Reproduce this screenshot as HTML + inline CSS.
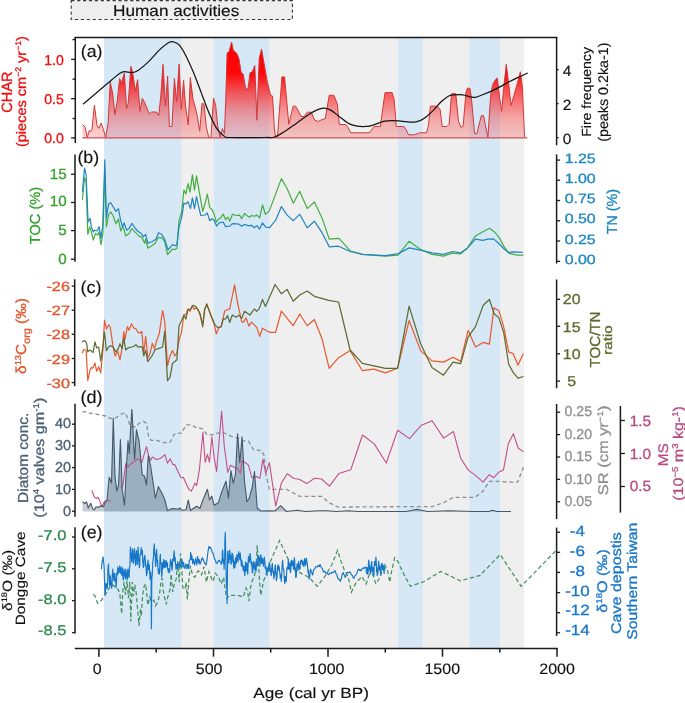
<!DOCTYPE html><html><head><meta charset="utf-8"><style>html,body{margin:0;padding:0;background:#fff;width:685px;height:703px;overflow:hidden}svg{display:block;font-family:"Liberation Sans", sans-serif;text-rendering:geometricPrecision;will-change:transform}</style></head><body>
<svg width="685" height="703" viewBox="0 0 685 703">
<defs><linearGradient id="gchar" gradientUnits="userSpaceOnUse" x1="0" y1="137.9" x2="0" y2="43.6"><stop offset="0" stop-color="#ff0000" stop-opacity="0.18"/><stop offset="0.217" stop-color="#ff0000" stop-opacity="0.31"/><stop offset="0.367" stop-color="#ff0000" stop-opacity="0.48"/><stop offset="0.525" stop-color="#ff0000" stop-opacity="0.70"/><stop offset="0.683" stop-color="#ff0000" stop-opacity="0.97"/><stop offset="1" stop-color="#ff0000" stop-opacity="1"/></linearGradient></defs>
<rect x="71.2" y="0.6" width="221.2" height="18.9" fill="#eeeeee" stroke="#3a3a3a" stroke-width="1.1" stroke-dasharray="3.3,2.6"/>
<rect x="181" y="37.7" width="343.1" height="610.3" fill="#efefef"/>
<rect x="104.0" y="37.7" width="77.4" height="610.3" fill="#d6e7f6"/>
<rect x="213.7" y="37.7" width="55.6" height="610.3" fill="#d6e7f6"/>
<rect x="398.0" y="37.7" width="24.7" height="610.3" fill="#d6e7f6"/>
<rect x="469.5" y="37.7" width="30.6" height="610.3" fill="#d6e7f6"/>
<polygon points="82.5,137.9 82.5,124.5 85.2,127.3 87.2,137.5 89.4,130.1 90.6,131.7 91.9,129.7 94.4,105.1 96.9,125.0 98.8,128.3 101.1,123.0 103.2,128.9 105.7,137.5 108.2,122.6 110.2,82.0 112.6,92.9 114.9,114.5 117.3,100.7 119.6,78.5 121.6,82.7 124.3,72.9 126.6,108.2 128.2,103.9 130.9,66.3 132.6,72.6 135.3,91.3 137.6,79.6 140.0,111.4 142.3,98.4 144.6,102.3 149.3,114.0 151.7,112.0 156.4,112.0 158.7,115.6 160.8,96.0 163.0,64.4 165.5,106.2 167.6,76.0 169.4,126.5 172.0,126.5 174.4,78.5 176.6,101.5 179.1,64.0 181.3,109.3 183.6,80.4 185.6,107.0 188.3,125.0 190.3,77.6 193.0,99.2 195.0,106.2 197.4,116.4 199.7,131.2 202.1,103.1 204.1,104.6 206.3,127.3 208.8,137.5 211.0,137.5 213.5,98.1 215.7,105.4 217.7,125.8 220.1,137.5 222.4,128.6 224.5,133.6 226.0,91.3 227.1,53.0 229.2,51.4 231.5,42.0 233.4,50.6 236.5,53.0 238.9,58.5 241.2,72.6 243.2,74.1 245.9,90.1 248.2,87.4 250.1,72.6 252.2,72.1 254.8,65.5 256.9,120.3 259.2,58.5 261.5,49.1 263.9,62.4 267.0,80.4 270.5,95.3 272.5,96.0 274.4,128.9 275.6,137.5 277.5,136.7 281.9,76.9 284.6,76.9 288.8,124.2 293.2,106.2 295.5,106.2 297.9,110.1 301.0,116.4 304.1,116.4 307.3,112.2 311.2,112.2 314.8,120.3 318.2,121.4 322.1,119.5 325.3,118.7 329.2,95.3 333.9,95.3 337.3,103.9 339.3,124.5 345.6,124.5 347.9,127.3 350.8,132.8 369.4,132.8 374.1,126.5 380.3,126.5 385.0,92.6 392.1,92.6 394.1,99.2 396.3,126.5 403.8,126.5 406.2,129.7 408.5,134.8 414.8,134.8 419.5,132.8 426.5,132.8 428.4,125.8 430.4,106.2 437.0,106.2 440.1,109.3 442.2,126.5 446.9,126.5 449.2,124.2 451.5,93.7 455.8,93.7 458.4,121.1 460.9,127.3 463.1,126.5 466.0,92.1 467.5,88.2 469.9,88.2 471.4,97.6 474.6,133.6 476.9,133.6 481.3,115.6 483.5,115.6 487.9,137.5 490.7,94.5 492.6,85.1 494.9,80.4 497.3,78.0 499.6,97.6 501.6,111.4 503.8,86.6 506.3,64.4 509.0,86.6 511.0,105.4 514.2,94.5 517.3,83.5 520.4,71.8 522.3,86.6 524.6,137.5 524.6,137.9" fill="url(#gchar)" stroke="none"/>
<polyline points="82.5,124.5 85.2,127.3 87.2,137.5 89.4,130.1 90.6,131.7 91.9,129.7 94.4,105.1 96.9,125.0 98.8,128.3 101.1,123.0 103.2,128.9 105.7,137.5 108.2,122.6 110.2,82.0 112.6,92.9 114.9,114.5 117.3,100.7 119.6,78.5 121.6,82.7 124.3,72.9 126.6,108.2 128.2,103.9 130.9,66.3 132.6,72.6 135.3,91.3 137.6,79.6 140.0,111.4 142.3,98.4 144.6,102.3 149.3,114.0 151.7,112.0 156.4,112.0 158.7,115.6 160.8,96.0 163.0,64.4 165.5,106.2 167.6,76.0 169.4,126.5 172.0,126.5 174.4,78.5 176.6,101.5 179.1,64.0 181.3,109.3 183.6,80.4 185.6,107.0 188.3,125.0 190.3,77.6 193.0,99.2 195.0,106.2 197.4,116.4 199.7,131.2 202.1,103.1 204.1,104.6 206.3,127.3 208.8,137.5 211.0,137.5 213.5,98.1 215.7,105.4 217.7,125.8 220.1,137.5 222.4,128.6 224.5,133.6 226.0,91.3 227.1,53.0 229.2,51.4 231.5,42.0 233.4,50.6 236.5,53.0 238.9,58.5 241.2,72.6 243.2,74.1 245.9,90.1 248.2,87.4 250.1,72.6 252.2,72.1 254.8,65.5 256.9,120.3 259.2,58.5 261.5,49.1 263.9,62.4 267.0,80.4 270.5,95.3 272.5,96.0 274.4,128.9 275.6,137.5 277.5,136.7 281.9,76.9 284.6,76.9 288.8,124.2 293.2,106.2 295.5,106.2 297.9,110.1 301.0,116.4 304.1,116.4 307.3,112.2 311.2,112.2 314.8,120.3 318.2,121.4 322.1,119.5 325.3,118.7 329.2,95.3 333.9,95.3 337.3,103.9 339.3,124.5 345.6,124.5 347.9,127.3 350.8,132.8 369.4,132.8 374.1,126.5 380.3,126.5 385.0,92.6 392.1,92.6 394.1,99.2 396.3,126.5 403.8,126.5 406.2,129.7 408.5,134.8 414.8,134.8 419.5,132.8 426.5,132.8 428.4,125.8 430.4,106.2 437.0,106.2 440.1,109.3 442.2,126.5 446.9,126.5 449.2,124.2 451.5,93.7 455.8,93.7 458.4,121.1 460.9,127.3 463.1,126.5 466.0,92.1 467.5,88.2 469.9,88.2 471.4,97.6 474.6,133.6 476.9,133.6 481.3,115.6 483.5,115.6 487.9,137.5 490.7,94.5 492.6,85.1 494.9,80.4 497.3,78.0 499.6,97.6 501.6,111.4 503.8,86.6 506.3,64.4 509.0,86.6 511.0,105.4 514.2,94.5 517.3,83.5 520.4,71.8 522.3,86.6 524.6,137.5" fill="none" stroke="#cf3a3a" stroke-width="1" stroke-linejoin="round"/>
<line x1="82.5" y1="137.9" x2="527.3" y2="137.9" stroke="#d25050" stroke-width="1.2"/>
<path d="M83.10,104.20 C87.75,100.23 104.52,85.75 111.00,80.40 C117.48,75.05 118.62,73.40 122.00,72.10 C125.38,70.80 128.70,72.83 131.30,72.60 C133.90,72.37 134.72,72.53 137.60,70.70 C140.48,68.87 144.95,65.07 148.60,61.60 C152.25,58.13 156.12,53.08 159.50,49.90 C162.88,46.72 166.50,43.82 168.90,42.50 C171.30,41.18 172.15,41.55 173.90,42.00 C175.65,42.45 177.45,42.98 179.40,45.20 C181.35,47.42 183.25,50.73 185.60,55.30 C187.95,59.87 190.88,66.33 193.50,72.60 C196.12,78.87 198.70,86.13 201.30,92.90 C203.90,99.67 206.48,107.20 209.10,113.20 C211.72,119.20 214.52,125.12 217.00,128.90 C219.48,132.68 221.92,134.47 224.00,135.90 C226.08,137.33 222.67,137.23 229.50,137.50 C236.33,137.77 257.52,137.58 265.00,137.50 C272.48,137.42 271.27,137.92 274.40,137.00 C277.53,136.08 280.15,134.27 283.80,132.00 C287.45,129.73 292.13,126.32 296.30,123.40 C300.47,120.48 305.42,116.72 308.80,114.50 C312.18,112.28 314.12,111.15 316.60,110.10 C319.08,109.05 321.35,108.20 323.70,108.20 C326.05,108.20 327.97,108.60 330.70,110.10 C333.43,111.60 336.97,114.90 340.10,117.20 C343.23,119.50 346.63,122.40 349.50,123.90 C352.37,125.40 354.72,125.77 357.30,126.20 C359.88,126.63 362.98,126.52 365.00,126.50 C367.02,126.48 367.63,126.48 369.40,126.10 C371.17,125.72 373.25,124.98 375.60,124.20 C377.95,123.42 380.88,122.00 383.50,121.40 C386.12,120.80 388.43,120.65 391.30,120.60 C394.17,120.55 397.05,120.83 400.70,121.10 C404.35,121.37 410.07,122.25 413.20,122.20 C416.33,122.15 417.42,121.63 419.50,120.80 C421.58,119.97 423.35,118.98 425.70,117.20 C428.05,115.42 430.98,112.72 433.60,110.10 C436.22,107.48 438.80,103.90 441.40,101.50 C444.00,99.10 446.85,96.82 449.20,95.70 C451.55,94.58 453.23,94.93 455.50,94.80 C457.77,94.67 460.28,94.57 462.80,94.90 C465.32,95.23 468.52,96.40 470.60,96.80 C472.68,97.20 473.20,97.68 475.30,97.30 C477.40,96.92 480.32,95.62 483.20,94.50 C486.08,93.38 489.73,91.92 492.60,90.60 C495.47,89.28 497.80,87.98 500.40,86.60 C503.00,85.22 505.33,83.80 508.20,82.30 C511.07,80.80 514.33,79.15 517.60,77.60 C520.87,76.05 526.10,73.77 527.80,73.00" fill="none" stroke="#151515" stroke-width="1.25"/>
<polyline points="82.4,199.9 84.5,177.8 86.1,181.9 87.8,234.3 89.7,226.9 91.4,231.8 93.3,240.0 95.5,233.5 97.6,235.1 99.2,231.8 100.9,244.6 102.8,235.1 104.8,171.3 106.4,226.9 108.6,214.6 110.7,211.9 113.0,215.5 115.9,223.6 118.4,219.1 120.8,231.0 122.8,226.1 124.1,229.9 125.7,235.9 129.0,233.5 132.0,228.6 135.6,232.7 138.8,235.9 142.1,237.6 144.6,243.3 145.7,239.2 147.8,248.2 151.9,245.7 155.2,243.3 158.1,237.6 161.7,237.6 164.7,241.7 167.5,254.7 172.5,249.0 174.9,249.5 176.9,248.2 179.0,220.4 181.5,213.0 183.9,190.1 185.9,193.9 188.0,183.6 190.0,192.2 192.4,174.9 194.5,190.1 196.5,175.9 199.1,190.9 202.7,211.4 204.7,204.8 207.3,194.2 209.8,207.6 212.2,209.7 214.2,214.6 216.3,222.0 219.1,218.7 220.7,217.9 223.2,214.2 225.6,219.6 227.8,217.1 229.7,221.2 232.5,214.3 236.3,215.5 239.6,215.1 241.7,218.7 244.5,213.5 248.9,217.1 251.8,215.5 254.3,216.3 256.7,215.1 259.7,217.9 262.5,204.8 265.4,214.3 269.1,211.4 281.4,178.6 287.1,188.5 293.3,203.2 299.7,191.2 307.2,208.6 314.4,202.0 322.0,217.9 329.3,239.2 339.0,238.4 350.1,250.7 362.5,254.4 385.4,256.1 398.0,255.1 409.1,241.3 420.6,249.5 432.0,254.4 443.5,256.1 452.5,253.1 460.7,253.9 467.3,248.2 475.5,235.9 482.0,232.3 489.4,228.2 494.3,231.8 499.2,237.6 504.1,246.6 509.0,253.4 517.2,255.2 523.4,255.2" fill="none" stroke="#42ae42" stroke-width="1.2" stroke-linejoin="round"/>
<polyline points="82.4,191.7 84.5,168.0 86.1,174.5 88.1,222.0 90.1,218.4 91.4,226.9 93.3,231.8 94.6,230.2 97.1,231.0 99.2,226.6 100.9,238.4 102.8,225.3 104.8,159.8 106.4,217.9 108.6,204.0 110.7,202.7 113.0,206.5 115.9,211.4 118.4,208.6 120.5,219.6 122.5,226.9 124.1,222.8 126.6,230.2 129.0,228.6 132.0,223.3 134.7,227.7 138.0,231.5 140.5,232.7 143.4,236.7 145.7,234.3 147.8,243.3 151.9,241.7 156.0,239.2 158.5,232.7 161.7,234.3 164.7,239.2 168.0,249.8 172.5,244.6 174.9,245.7 176.9,244.6 179.0,226.9 181.8,217.1 183.9,203.2 186.0,204.0 188.0,201.6 190.5,208.6 192.4,197.8 194.5,208.6 196.5,196.6 198.6,206.5 200.8,215.5 205.2,215.0 207.3,213.0 209.8,220.7 212.2,218.7 214.2,220.4 216.6,226.1 219.1,222.8 223.2,222.0 225.6,226.6 229.7,226.1 232.5,223.6 238.7,224.0 241.5,226.1 244.5,224.5 248.2,225.6 251.5,225.3 254.3,227.7 256.7,225.6 259.7,229.0 262.5,222.8 265.7,227.2 269.6,227.7 275.6,220.4 281.4,206.5 287.1,215.1 293.3,220.7 299.7,214.3 307.2,227.7 314.4,221.2 321.5,231.8 329.3,246.9 338.6,246.2 350.1,251.5 362.5,254.4 385.4,255.6 398.5,253.6 409.1,247.9 420.6,250.2 432.0,252.8 443.5,254.4 452.5,251.5 460.7,252.8 467.3,248.2 475.5,239.2 482.8,240.3 487.7,239.2 493.5,238.9 498.4,243.0 504.1,249.0 508.2,252.3 513.9,251.8 522.9,252.3" fill="none" stroke="#1f86c0" stroke-width="1.2" stroke-linejoin="round"/>
<polyline points="81.9,353.2 84.0,349.5 86.1,350.3 87.8,380.6 90.1,369.9 91.4,367.5 92.7,368.3 95.0,363.1 96.6,371.2 98.7,366.7 100.7,372.9 102.8,351.9 104.5,320.0 106.4,329.0 108.6,324.9 110.2,327.0 113.0,346.2 115.1,356.0 117.6,351.1 120.0,359.8 122.1,347.8 123.8,331.5 124.9,339.6 127.4,326.6 129.0,330.3 131.5,323.8 133.9,328.2 135.9,328.7 138.0,332.3 140.1,333.1 141.8,331.5 143.7,352.7 145.7,336.4 147.8,358.1 150.0,353.6 152.3,343.4 154.4,348.6 156.8,340.5 159.3,333.6 162.6,310.7 164.7,320.8 167.5,365.8 169.9,356.0 172.5,350.6 174.9,356.0 176.9,353.2 179.0,340.5 181.5,332.3 183.9,315.1 186.0,314.3 188.0,308.6 190.0,311.3 192.1,305.8 194.2,309.4 196.2,307.7 198.6,310.2 201.1,319.2 202.7,324.1 204.7,309.4 206.8,303.6 210.9,315.9 214.2,324.1 216.3,333.9 219.1,327.0 221.1,327.0 224.8,310.7 227.3,309.7 229.7,309.0 234.6,284.8 237.4,302.0 239.6,311.8 241.7,321.6 243.6,322.1 246.1,317.9 248.9,326.1 251.5,322.1 255.1,325.7 256.7,327.4 259.7,336.4 262.5,328.2 265.7,330.3 269.6,332.3 275.6,332.3 281.4,311.0 287.1,318.4 293.2,325.7 299.7,314.0 307.2,325.7 314.4,319.5 322.0,338.8 329.2,368.3 338.6,357.7 350.1,350.6 362.4,370.7 373.9,369.1 385.4,372.9 397.6,368.3 409.1,320.5 420.6,350.6 432.0,360.9 443.5,362.1 453.0,357.3 460.7,361.4 468.1,330.3 475.5,347.0 483.2,342.4 489.4,344.1 494.0,307.7 498.9,310.7 503.8,327.4 508.7,351.9 513.1,353.6 518.0,365.3 523.4,353.6" fill="none" stroke="#e8582e" stroke-width="1.2" stroke-linejoin="round"/>
<polyline points="81.9,342.1 84.5,340.5 86.5,342.9 87.8,351.9 89.7,350.0 91.4,351.1 93.0,352.7 95.0,341.8 96.6,347.8 98.7,347.0 100.7,360.9 102.8,347.0 104.5,332.3 106.4,350.6 108.6,347.0 110.7,345.7 113.0,347.0 115.6,351.6 117.9,349.5 120.0,343.7 122.1,348.6 123.8,338.0 125.7,350.0 128.2,347.8 131.5,347.0 133.9,346.2 135.9,344.6 138.0,347.0 140.5,346.7 142.4,347.0 143.7,356.0 145.7,350.3 147.8,361.7 151.9,356.0 155.2,349.5 158.5,348.6 162.6,347.0 164.7,331.5 167.5,380.6 170.0,377.3 172.5,363.4 174.6,361.7 176.9,359.8 179.0,325.7 181.5,320.8 183.9,315.1 185.9,319.2 188.0,309.7 190.5,309.4 192.9,305.3 196.2,306.9 200.3,314.3 202.7,327.0 204.7,309.4 206.8,304.5 210.9,315.1 215.0,324.9 217.5,327.4 221.1,327.0 223.2,319.2 225.6,318.9 227.6,315.6 229.7,322.5 232.2,315.1 236.3,317.2 238.7,315.1 241.7,318.4 244.5,311.3 249.9,315.1 254.3,309.0 256.7,311.3 259.2,308.6 262.5,299.5 265.4,306.4 275.1,284.5 281.4,293.8 287.1,289.4 293.2,301.2 299.7,295.0 307.2,291.0 314.4,296.3 328.8,300.4 338.6,302.0 350.1,350.0 362.4,363.4 385.4,368.3 397.6,368.3 409.1,306.1 420.6,343.7 432.0,367.5 443.5,375.2 453.0,362.2 460.7,363.7 468.1,337.2 475.5,326.6 483.2,305.3 489.4,299.5 494.0,313.5 498.9,317.9 503.8,333.1 508.7,364.2 513.1,372.4 518.0,378.1 523.4,376.5" fill="none" stroke="#5b6a2e" stroke-width="1.2" stroke-linejoin="round"/>
<polyline points="82.5,412.4 84.8,411.4 88.3,413.1 94.6,413.7 99.9,414.9 106.1,416.0 110.6,418.5 115.9,417.8 120.4,414.2 125.7,413.1 128.0,419.9 130.2,426.1 135.5,427.0 138.7,423.5 143.5,421.3 146.5,423.5 148.8,437.7 151.2,440.4 156.9,440.4 164.0,442.7 170.2,442.2 173.6,435.0 177.1,432.7 181.6,433.3 186.0,424.9 191.4,424.9 196.7,427.9 202.0,428.5 207.4,435.0 213.6,434.5 219.8,432.4 225.2,433.3 231.4,436.3 236.7,437.7 243.0,440.9 248.3,440.9 253.6,449.8 261.6,450.5 264.0,455.5 266.1,475.1 269.4,489.3 286.4,489.3 299.7,496.4 321.6,496.4 329.1,502.7 338.0,507.1 395.6,506.7 432.1,506.7 443.6,502.7 453.4,497.3 474.9,497.3 483.1,491.1 489.2,481.3 499.5,481.3 508.4,482.2 517.6,482.2 523.5,467.1" fill="none" stroke="#8e8e8e" stroke-width="1.3" stroke-dasharray="4,2.8"/>
<clipPath id="cw"><rect x="0" y="380" width="104" height="140"/><rect x="524.1" y="380" width="100" height="140"/></clipPath>
<clipPath id="cg"><rect x="181.4" y="380" width="32.3" height="140"/><rect x="269.3" y="380" width="128.7" height="140"/><rect x="422.7" y="380" width="46.8" height="140"/><rect x="500.1" y="380" width="24" height="140"/></clipPath>
<clipPath id="cb"><rect x="104" y="380" width="77.4" height="140"/><rect x="213.7" y="380" width="55.6" height="140"/><rect x="398" y="380" width="24.7" height="140"/><rect x="469.5" y="380" width="30.6" height="140"/></clipPath>
<polygon clip-path="url(#cw)" points="82.5,511.5 82.5,501.8 84.8,503.5 86.6,501.8 88.3,508.0 90.7,503.2 92.8,508.9 94.6,509.8 96.0,506.7 98.1,507.5 100.8,505.7 103.5,506.7 104.9,502.7 107.0,500.0 109.2,477.2 111.5,483.1 113.3,418.1 115.0,476.0 116.8,491.1 118.6,484.9 120.4,439.5 122.2,489.3 124.5,505.3 126.2,471.5 128.0,440.9 129.3,453.7 130.5,430.6 131.9,409.2 133.4,437.7 134.6,459.1 136.4,429.7 139.1,441.3 142.3,475.1 144.4,476.0 146.5,484.9 148.3,455.5 150.6,466.2 153.3,484.0 155.4,498.2 158.3,486.6 162.2,493.8 164.9,500.0 167.5,510.7 171.1,508.9 173.6,508.5 178.0,509.2 179.8,508.0 182.5,510.3 186.0,509.8 188.3,500.0 190.5,510.7 193.1,508.5 196.7,506.2 199.9,508.5 202.9,500.0 207.4,489.3 209.5,500.0 211.8,496.1 214.1,505.3 218.4,502.7 222.0,491.1 226.0,481.3 228.4,498.2 230.9,470.6 233.2,483.1 235.5,474.2 237.6,433.8 239.8,462.6 242.1,436.8 244.4,480.4 246.9,501.8 249.2,498.2 252.2,487.5 254.5,471.5 257.2,508.0 260.7,511.0 270.0,510.7 274.8,511.0 280.7,505.7 286.4,511.5 297.0,510.3 305.9,511.5 318.4,510.7 327.3,510.7 336.2,511.5 348.6,510.7 357.5,511.5 406.3,511.5 416.9,509.2 427.6,511.5 449.0,510.7 472.8,511.5 488.8,511.5 492.4,510.3 496.8,511.5 511.0,511.5 511.0,511.5" fill="#808e9b" fill-opacity="0.45" stroke="none"/>
<polygon clip-path="url(#cg)" points="82.5,511.5 82.5,501.8 84.8,503.5 86.6,501.8 88.3,508.0 90.7,503.2 92.8,508.9 94.6,509.8 96.0,506.7 98.1,507.5 100.8,505.7 103.5,506.7 104.9,502.7 107.0,500.0 109.2,477.2 111.5,483.1 113.3,418.1 115.0,476.0 116.8,491.1 118.6,484.9 120.4,439.5 122.2,489.3 124.5,505.3 126.2,471.5 128.0,440.9 129.3,453.7 130.5,430.6 131.9,409.2 133.4,437.7 134.6,459.1 136.4,429.7 139.1,441.3 142.3,475.1 144.4,476.0 146.5,484.9 148.3,455.5 150.6,466.2 153.3,484.0 155.4,498.2 158.3,486.6 162.2,493.8 164.9,500.0 167.5,510.7 171.1,508.9 173.6,508.5 178.0,509.2 179.8,508.0 182.5,510.3 186.0,509.8 188.3,500.0 190.5,510.7 193.1,508.5 196.7,506.2 199.9,508.5 202.9,500.0 207.4,489.3 209.5,500.0 211.8,496.1 214.1,505.3 218.4,502.7 222.0,491.1 226.0,481.3 228.4,498.2 230.9,470.6 233.2,483.1 235.5,474.2 237.6,433.8 239.8,462.6 242.1,436.8 244.4,480.4 246.9,501.8 249.2,498.2 252.2,487.5 254.5,471.5 257.2,508.0 260.7,511.0 270.0,510.7 274.8,511.0 280.7,505.7 286.4,511.5 297.0,510.3 305.9,511.5 318.4,510.7 327.3,510.7 336.2,511.5 348.6,510.7 357.5,511.5 406.3,511.5 416.9,509.2 427.6,511.5 449.0,510.7 472.8,511.5 488.8,511.5 492.4,510.3 496.8,511.5 511.0,511.5 511.0,511.5" fill="#77828f" fill-opacity="0.45" stroke="none"/>
<polygon clip-path="url(#cb)" points="82.5,511.5 82.5,501.8 84.8,503.5 86.6,501.8 88.3,508.0 90.7,503.2 92.8,508.9 94.6,509.8 96.0,506.7 98.1,507.5 100.8,505.7 103.5,506.7 104.9,502.7 107.0,500.0 109.2,477.2 111.5,483.1 113.3,418.1 115.0,476.0 116.8,491.1 118.6,484.9 120.4,439.5 122.2,489.3 124.5,505.3 126.2,471.5 128.0,440.9 129.3,453.7 130.5,430.6 131.9,409.2 133.4,437.7 134.6,459.1 136.4,429.7 139.1,441.3 142.3,475.1 144.4,476.0 146.5,484.9 148.3,455.5 150.6,466.2 153.3,484.0 155.4,498.2 158.3,486.6 162.2,493.8 164.9,500.0 167.5,510.7 171.1,508.9 173.6,508.5 178.0,509.2 179.8,508.0 182.5,510.3 186.0,509.8 188.3,500.0 190.5,510.7 193.1,508.5 196.7,506.2 199.9,508.5 202.9,500.0 207.4,489.3 209.5,500.0 211.8,496.1 214.1,505.3 218.4,502.7 222.0,491.1 226.0,481.3 228.4,498.2 230.9,470.6 233.2,483.1 235.5,474.2 237.6,433.8 239.8,462.6 242.1,436.8 244.4,480.4 246.9,501.8 249.2,498.2 252.2,487.5 254.5,471.5 257.2,508.0 260.7,511.0 270.0,510.7 274.8,511.0 280.7,505.7 286.4,511.5 297.0,510.3 305.9,511.5 318.4,510.7 327.3,510.7 336.2,511.5 348.6,510.7 357.5,511.5 406.3,511.5 416.9,509.2 427.6,511.5 449.0,510.7 472.8,511.5 488.8,511.5 492.4,510.3 496.8,511.5 511.0,511.5 511.0,511.5" fill="#536c7e" fill-opacity="0.45" stroke="none"/>
<polyline points="91.9,490.2 94.2,496.8 96.4,498.6 98.1,497.3 99.9,501.4 102.0,506.7 104.4,501.4 108.8,500.0 110.6,502.1" fill="none" stroke="#c4508a" stroke-width="1.1" stroke-linejoin="round"/>
<polyline points="120.9,488.4 123.0,484.9 125.7,463.5 128.0,467.1 130.2,464.4 133.7,461.7 138.2,458.7 141.7,462.6 144.4,453.7 146.5,446.6 148.3,454.6 150.6,460.5 152.4,456.9 156.0,459.4 159.5,458.7 161.8,457.3 164.9,454.6 167.5,463.1 170.2,458.7 172.7,464.4 175.0,464.9 178.0,471.5 181.0,477.7 183.3,477.2 188.7,489.3 191.4,491.1 194.9,483.1 196.7,485.7 199.4,469.7 202.9,432.4 205.2,462.3 207.4,454.3 209.5,462.3 211.8,436.8 214.1,457.3 216.6,471.5 221.6,411.4 224.3,446.6 227.8,472.4 230.5,465.3 234.9,467.6 237.3,468.3 240.3,473.3 242.1,460.5 244.7,462.3 248.3,464.9 251.9,477.7 256.3,476.5 259.9,478.3 262.9,459.1 265.7,473.3 269.4,462.6 275.7,506.2 281.4,483.1 287.2,473.8 293.5,478.3 299.7,479.5 306.8,483.6 314.5,478.3 321.6,479.0 329.4,486.1 338.8,473.6 350.8,469.7 362.5,435.0 374.2,443.9 386.3,463.0 397.7,430.2 409.5,438.6 420.9,425.6 432.1,420.8 443.6,438.1 453.4,431.5 460.7,458.2 468.3,470.1 475.5,475.4 483.1,482.2 489.2,474.7 493.8,477.7 499.1,471.9 503.4,470.1 508.4,443.4 513.4,433.8 518.2,448.0 523.5,451.9" fill="none" stroke="#c4508a" stroke-width="1.1" stroke-linejoin="round"/>
<polyline points="82.5,501.8 84.8,503.5 86.6,501.8 88.3,508.0 90.7,503.2 92.8,508.9 94.6,509.8 96.0,506.7 98.1,507.5 100.8,505.7 103.5,506.7 104.9,502.7 107.0,500.0 109.2,477.2 111.5,483.1 113.3,418.1 115.0,476.0 116.8,491.1 118.6,484.9 120.4,439.5 122.2,489.3 124.5,505.3 126.2,471.5 128.0,440.9 129.3,453.7 130.5,430.6 131.9,409.2 133.4,437.7 134.6,459.1 136.4,429.7 139.1,441.3 142.3,475.1 144.4,476.0 146.5,484.9 148.3,455.5 150.6,466.2 153.3,484.0 155.4,498.2 158.3,486.6 162.2,493.8 164.9,500.0 167.5,510.7 171.1,508.9 173.6,508.5 178.0,509.2 179.8,508.0 182.5,510.3 186.0,509.8 188.3,500.0 190.5,510.7 193.1,508.5 196.7,506.2 199.9,508.5 202.9,500.0 207.4,489.3 209.5,500.0 211.8,496.1 214.1,505.3 218.4,502.7 222.0,491.1 226.0,481.3 228.4,498.2 230.9,470.6 233.2,483.1 235.5,474.2 237.6,433.8 239.8,462.6 242.1,436.8 244.4,480.4 246.9,501.8 249.2,498.2 252.2,487.5 254.5,471.5 257.2,508.0 260.7,511.0 270.0,510.7 274.8,511.0 280.7,505.7 286.4,511.5 297.0,510.3 305.9,511.5 318.4,510.7 327.3,510.7 336.2,511.5 348.6,510.7 357.5,511.5 406.3,511.5 416.9,509.2 427.6,511.5 449.0,510.7 472.8,511.5 488.8,511.5 492.4,510.3 496.8,511.5 511.0,511.5" fill="none" stroke="#44586a" stroke-width="1.1" stroke-linejoin="round"/>
<polyline points="93.4,594.2 95.0,596.1 97.6,603.2 101.4,600.3 104.9,595.4 108.5,589.7 110.6,584.7 113.5,585.4 116.3,588.3 118.4,589.7 119.9,594.7 120.9,606.0 121.7,613.8 122.7,591.8 124.1,581.9 125.5,594.7 127.0,580.5 128.4,598.2 129.8,581.9 130.8,621.6 132.2,581.9 133.4,596.1 134.8,584.7 136.2,593.2 137.6,608.9 139.0,625.9 140.5,608.9 141.3,616.5 142.5,597.0 144.1,586.3 145.7,583.9 146.9,595.3 147.8,605.1 149.8,597.0 151.4,601.8 153.9,600.2 155.5,605.9 158.0,601.8 159.6,593.7 160.9,582.2 162.1,578.1 163.2,590.4 164.5,597.0 166.2,604.3 167.8,597.0 170.2,588.8 171.1,574.0 172.7,592.0 174.3,583.9 176.3,578.9 177.6,561.0 179.2,582.2 180.5,553.6 181.7,567.5 182.8,588.0 185.0,589.6 186.1,582.2 187.4,599.4 189.0,578.9 190.4,565.9 192.3,574.0 194.8,577.3 197.5,571.6 198.3,570.8 201.5,574.9 204.0,566.7 206.4,582.2 208.9,571.6 211.4,578.2 213.0,581.4 215.4,573.2 218.7,577.3 221.2,583.9 223.6,577.3 225.3,590.4 226.9,598.6 229.3,595.3 234.3,595.3 239.2,595.7 243.2,597.0 246.0,588.0 247.7,592.1 249.0,601.1 250.6,587.2 252.2,580.6 254.2,577.3 255.8,569.2 257.2,545.4 258.5,565.9 259.6,581.4 260.8,595.3 262.4,587.2 263.7,580.6 265.0,577.3 270.6,561.0 279.6,540.5 288.6,560.2 294.4,569.2 302.5,574.1 309.1,577.4 317.3,586.3 325.4,575.7 332.0,564.3 337.5,550.4 340.7,560.2 344.0,569.2 348.1,576.5 351.4,592.1 353.8,587.2 356.3,582.3 362.0,576.5 366.1,583.9 369.4,574.1 372.6,574.1 375.9,583.9 380.0,577.4 384.1,563.4 387.4,570.0 389.8,582.3 391.4,572.4 394.7,557.7 398.0,561.8 403.7,574.1 410.3,586.3 424.2,581.5 440.7,571.4 460.4,580.8 480.1,575.4 500.2,554.6 521.2,586.3 556.3,550.2" fill="none" stroke="#45905f" stroke-width="1.25" stroke-dasharray="4.2,2.6"/>
<polyline points="101.4,569.1 101.6,567.2 101.9,563.3 102.1,561.3 102.5,560.7 102.8,557.9 103.2,557.0 103.5,561.8 103.9,564.4 104.2,569.1 104.4,578.2 104.7,585.4 104.9,594.7 105.3,593.2 105.7,583.9 106.1,583.3 106.4,587.6 106.8,584.6 107.1,589.0 107.6,583.9 108.0,568.3 108.5,564.1 108.8,573.5 109.2,575.1 109.5,584.7 109.9,586.0 110.2,575.6 110.6,577.6 110.9,584.7 111.3,581.6 111.6,588.3 112.0,586.3 112.4,573.1 112.8,569.1 113.1,577.1 113.5,573.8 113.8,580.5 114.2,580.7 114.5,573.3 114.9,573.4 115.3,581.1 115.6,578.8 116.0,587.6 116.3,585.3 116.7,574.0 117.0,572.6 117.3,575.1 117.7,567.2 118.0,569.1 118.4,573.3 118.7,568.1 119.1,571.2 119.4,572.2 119.7,565.7 120.0,567.0 120.4,572.9 120.9,568.1 121.3,573.4 121.6,574.9 122.0,567.0 122.3,569.1 122.6,575.7 122.8,572.8 123.1,579.0 123.4,580.0 123.8,569.0 124.1,569.8 124.4,575.2 124.8,571.5 125.1,577.6 125.4,578.9 125.7,569.1 126.0,571.2 126.3,577.5 126.7,573.0 127.0,578.3 127.3,579.7 127.7,569.7 128.0,569.1 128.3,575.1 128.5,570.8 128.8,577.6 129.1,576.7 129.5,567.2 129.8,567.0 130.0,564.7 130.0,562.7 130.3,550.0 130.5,547.1 130.7,550.7 130.9,556.0 131.2,553.5 131.5,560.0 131.6,562.0 131.9,562.0 132.3,550.5 132.3,549.1 132.6,549.2 132.9,557.7 133.0,559.0 133.1,555.1 133.4,563.4 133.7,560.6 133.8,562.0 134.1,550.2 134.5,550.8 134.5,548.5 134.8,558.3 135.1,553.8 135.2,555.5 135.5,565.5 135.8,563.9 135.8,564.8 136.2,551.8 136.5,550.6 136.6,550.7 136.8,557.3 137.0,555.3 137.3,563.4 137.4,564.5 137.6,562.4 138.0,549.4 138.0,547.0 138.3,549.2 138.6,559.5 138.7,560.7 139.0,558.6 139.3,567.7 139.3,565.6 139.7,566.1 140.1,554.5 140.1,556.0 140.5,553.5 140.9,554.5 140.9,552.1 141.2,547.5 141.5,552.0 141.6,549.5 141.9,554.4 142.3,551.5 142.4,550.2 142.6,556.3 142.8,562.4 143.1,559.8 143.2,565.9 143.3,567.5 143.8,565.9 144.0,560.9 144.4,556.5 144.7,557.2 144.9,555.2 145.4,561.8 145.4,565.2 146.0,567.4 146.0,564.7 146.5,575.7 146.7,572.7 147.1,573.8 147.3,570.9 147.6,563.7 148.0,560.1 148.2,562.6 148.6,569.8 148.7,569.9 149.2,564.6 149.3,566.0 149.8,574.0 149.9,578.3 150.2,579.3 150.6,572.1 150.7,573.6 151.1,579.0 151.2,598.2 151.3,609.4 151.4,628.8 151.5,624.4 151.5,614.9 151.7,591.8 151.8,579.0 152.2,575.3 152.2,576.3 152.7,563.6 152.9,562.2 153.1,559.3 153.5,556.5 153.7,551.0 154.0,546.5 154.4,543.8 154.4,546.5 154.8,553.6 155.1,555.6 155.2,553.9 155.5,565.9 155.8,566.4 155.9,564.2 156.3,553.6 156.7,549.3 156.7,551.2 157.1,559.2 157.5,563.1 157.6,560.3 158.0,569.1 158.3,570.4 158.4,573.5 158.9,569.2 159.1,574.1 159.3,574.0 159.7,571.4 159.8,564.1 160.0,557.6 160.4,554.4 160.4,557.0 160.8,564.0 161.1,562.7 161.2,564.2 161.6,574.0 161.7,576.9 162.0,574.1 162.5,565.4 162.5,562.5 162.9,564.2 163.2,568.3 163.3,567.5 163.8,559.6 164.0,559.9 164.2,562.6 164.6,567.4 164.7,567.1 164.9,561.2 165.3,565.9 165.6,564.0 165.7,567.3 166.1,560.4 166.4,562.9 166.5,561.8 166.9,566.2 167.0,562.9 167.4,562.9 167.6,569.1 167.8,568.3 168.3,571.8 168.5,568.8 168.9,568.9 169.2,572.9 169.4,572.4 169.8,570.5 170.0,565.0 170.3,561.3 170.7,559.3 170.7,561.0 171.1,565.2 171.3,561.4 171.5,563.7 171.9,569.1 172.1,570.3 172.3,568.4 172.6,561.4 172.9,558.6 173.0,561.0 173.4,560.7 173.6,560.1 173.9,553.3 174.2,550.8 174.3,553.6 174.7,559.5 174.9,561.1 175.2,557.5 175.6,565.1 175.7,564.5 176.0,569.1 176.4,564.4 176.8,567.5 177.3,569.2 177.9,563.2 178.4,565.1 179.0,567.5 179.5,562.3 180.1,564.2 180.9,567.4 181.7,559.1 182.5,562.6 183.0,566.9 183.6,562.4 184.1,566.7 184.9,568.6 185.8,564.0 186.6,565.9 187.1,569.0 187.7,564.2 188.2,567.2 188.8,568.5 189.3,560.1 189.9,560.1 190.3,560.2 190.6,552.4 191.0,554.4 191.4,559.4 191.9,555.9 192.3,560.1 192.8,563.8 193.4,559.2 193.9,561.8 194.7,565.1 195.6,558.4 196.4,562.6 196.9,565.0 197.5,556.5 198.0,558.5 198.6,563.0 199.3,559.6 199.9,564.3 200.7,562.7 201.6,559.0 202.4,557.7 202.9,559.8 203.5,559.5 204.0,561.8 204.7,563.6 205.4,563.4 206.1,565.1 207.0,559.7 208.0,551.6 208.9,546.3 209.7,548.2 210.6,547.3 211.4,549.2 212.2,552.4 213.0,552.9 213.8,556.1 214.6,559.1 215.5,560.2 216.3,563.4 217.4,563.0 218.4,560.8 219.5,560.2 220.2,562.1 220.8,562.3 221.5,564.3 221.9,560.6 222.0,561.4 222.4,551.3 222.6,549.9 222.8,551.2 223.2,562.1 223.4,563.3 223.7,559.6 224.0,564.9 224.1,569.2 224.5,561.8 224.7,553.6 224.9,539.7 225.3,532.4 225.4,539.0 225.6,550.1 225.8,554.6 226.1,570.8 226.3,579.0 226.4,584.8 226.8,589.5 227.0,597.0 227.1,603.5 227.3,589.1 227.5,565.6 227.7,555.3 227.7,551.2 228.0,559.1 228.2,554.0 228.5,562.6 228.5,560.6 228.9,563.1 229.2,558.0 229.3,550.8 229.7,550.4 229.8,550.2 230.1,559.2 230.4,559.0 230.6,555.2 231.0,564.3 231.1,562.8 231.4,563.4 231.8,558.0 231.9,553.0 232.3,553.6 232.4,553.6 232.7,561.4 233.0,555.1 233.1,557.9 233.4,562.6 233.8,568.3 233.8,565.3 234.2,561.6 234.5,567.1 234.6,566.7 235.0,567.5 235.2,562.5 235.5,557.9 235.9,560.2 236.0,563.5 236.4,563.0 236.8,555.2 237.0,554.6 237.5,558.5 237.6,560.2 238.1,561.8 238.4,554.8 238.6,551.7 239.1,555.7 239.2,553.6 239.7,559.3 239.7,557.6 240.3,553.1 240.4,555.8 240.8,560.2 241.0,559.1 241.3,566.1 241.8,563.8 241.9,560.5 242.4,565.1 242.6,564.2 243.1,569.8 243.4,570.7 243.7,566.0 244.0,566.2 244.4,570.8 244.8,575.5 244.9,574.2 245.5,563.6 245.5,562.1 246.0,566.7 246.3,571.1 246.4,570.7 246.9,564.3 246.9,562.7 247.3,570.0 247.8,574.1 247.9,571.4 248.4,556.4 248.4,558.7 249.0,559.3 249.2,561.9 249.5,561.9 249.9,553.6 250.1,553.8 250.6,556.9 250.8,560.8 251.1,564.1 251.5,561.9 251.7,563.1 252.2,570.0 252.3,572.7 252.8,572.7 253.1,563.0 253.3,561.5 253.9,563.4 253.9,566.6 254.4,569.1 254.6,564.1 255.0,562.4 255.4,570.9 255.5,569.2 256.1,571.2 256.2,566.6 256.6,561.3 257.0,565.0 257.2,564.3 257.6,565.9 257.8,560.9 258.1,555.3 258.5,555.3 258.6,557.8 258.9,560.9 259.2,556.9 259.4,557.4 259.6,562.6 260.1,566.2 260.1,564.3 260.7,555.9 260.9,554.6 261.2,558.5 261.6,563.5 261.8,563.0 262.0,562.9 262.3,558.4 262.7,558.8 262.9,562.6 263.5,566.1 263.6,564.9 264.2,558.8 264.3,557.0 264.9,562.6 265.0,566.6 265.4,568.9 265.7,566.5 266.0,566.8 266.3,571.7 266.5,573.3 267.1,575.6 267.1,573.6 267.6,567.8 267.7,570.0 268.2,570.8 268.5,569.0 268.7,571.5 269.2,565.1 269.3,562.6 269.8,564.3 269.9,564.8 270.2,571.1 270.7,568.8 270.7,571.5 271.1,575.7 271.3,574.1 271.5,574.6 271.9,565.5 271.9,567.5 272.3,563.4 272.6,567.4 272.8,571.5 273.3,572.9 273.4,571.4 273.9,579.0 274.1,576.1 274.4,576.6 274.7,572.4 275.0,566.7 275.4,564.9 275.5,565.9 275.8,573.1 276.0,574.7 276.1,572.8 276.4,580.6 276.7,577.5 276.9,578.9 277.4,570.0 277.5,567.2 278.0,565.1 278.2,564.8 278.5,569.9 279.0,569.5 279.1,566.4 279.6,571.6 279.8,571.7 280.2,578.0 280.6,577.8 280.7,574.6 281.3,581.4 281.4,579.5 281.7,576.5 282.0,569.6 282.2,564.1 282.6,560.2 282.7,560.6 283.1,568.4 283.4,570.2 283.7,569.1 284.0,572.0 284.2,577.4 284.7,583.7 284.7,582.0 285.3,576.5 285.5,576.4 285.8,580.6 286.1,582.0 286.4,579.1 286.8,568.7 286.9,567.8 287.5,568.2 287.5,566.7 287.9,569.2 288.2,561.1 288.3,559.6 288.6,562.6 289.0,569.1 289.2,568.8 289.7,565.6 289.7,563.3 290.3,571.6 290.5,572.6 290.8,570.8 291.2,561.0 291.4,560.6 291.9,560.2 292.0,563.9 292.4,565.5 292.9,561.0 293.0,562.0 293.5,569.1 293.5,567.5 293.9,568.0 294.3,558.8 294.3,557.5 294.7,560.2 295.0,569.3 295.1,570.9 295.4,567.9 295.7,577.4 295.7,575.6 296.2,576.9 296.4,574.7 296.8,566.1 297.2,563.6 297.3,564.3 298.0,568.5 298.0,570.5 298.6,562.5 298.7,561.4 299.3,567.5 299.5,569.3 300.1,568.7 300.3,564.7 300.9,560.4 301.1,562.2 301.7,560.2 301.9,560.0 302.3,564.3 302.6,564.3 302.8,561.1 303.4,564.7 303.4,565.9 303.9,566.1 304.0,566.6 304.5,559.6 304.8,558.4 305.0,560.2 305.6,565.4 305.8,563.7 306.4,558.3 306.6,559.6 307.2,564.3 307.4,564.3 307.8,568.9 308.0,572.8 308.5,570.3 308.6,573.2 309.1,579.0 309.5,576.7 309.6,578.0 310.2,571.6 310.7,569.2 311.3,571.9 311.8,572.4 312.4,574.9 312.9,573.9 313.5,570.1 314.0,569.2 314.8,569.0 315.6,566.6 316.4,566.7 317.2,567.1 318.1,565.4 318.9,565.9 319.4,566.6 320.0,564.5 320.5,565.1 321.3,567.6 322.2,568.2 323.0,570.8 323.8,572.1 324.6,571.2 325.4,572.4 326.2,573.6 327.1,572.9 327.9,574.1 328.7,574.7 329.5,573.1 330.3,573.3 331.1,573.8 332.0,572.0 332.8,572.4 333.6,572.4 334.5,570.7 335.3,570.8 336.0,573.8 336.8,574.4 337.5,577.4 338.4,579.3 339.3,579.1 340.2,581.4 341.2,579.3 342.2,574.4 343.2,572.4 343.8,574.6 344.5,575.1 345.1,577.4 345.8,576.3 346.6,573.2 347.3,572.4 348.4,573.0 349.4,571.8 350.5,572.4 351.4,575.0 352.4,575.3 353.3,578.2 354.2,578.0 355.0,575.4 355.9,574.9 356.8,573.6 357.8,570.1 358.7,569.2 359.4,570.5 360.1,569.4 360.8,570.8 361.6,570.4 362.3,568.3 363.1,567.9 364.1,568.6 365.1,566.9 366.1,567.5 366.5,573.2 366.5,572.1 367.0,567.5 367.3,571.1 367.4,574.1 367.9,573.9 368.1,572.0 368.5,562.4 368.8,560.2 369.0,562.6 369.4,568.9 369.5,570.1 369.8,566.1 370.2,570.9 370.2,574.1 370.7,573.2 370.9,571.9 371.3,563.4 371.8,561.5 371.8,564.3 372.3,570.6 372.4,571.8 372.9,567.3 373.2,568.4 373.4,573.3 373.8,576.1 374.0,573.5 374.4,561.3 374.5,562.4 375.1,565.2 375.1,563.4 375.5,565.2 375.8,558.7 375.9,557.1 376.2,560.2 376.5,568.8 376.6,571.6 376.9,567.7 377.2,575.7 377.2,574.0 377.7,574.1 378.0,572.6 378.3,564.9 378.6,561.1 378.8,563.4 379.4,568.8 379.4,570.1 379.9,566.7 380.0,566.1 380.5,572.4 380.8,574.9 381.0,572.4 381.4,564.2 381.6,563.5 382.1,564.8 382.1,563.4 382.7,569.8 382.8,566.0 383.2,565.4 383.5,570.1 383.8,570.8 384.2,573.4 384.2,569.9 384.5,566.5 384.9,568.4 384.9,569.8" fill="none" stroke="#1676c8" stroke-width="1.15" stroke-linejoin="round"/>
<line x1="75.30" y1="37.00" x2="75.30" y2="143.00" stroke="#1a1a1a" stroke-width="1.50"/>
<line x1="74.55" y1="37.50" x2="557.35" y2="37.50" stroke="#1a1a1a" stroke-width="1.50"/>
<line x1="556.60" y1="37.00" x2="556.60" y2="145.30" stroke="#1a1a1a" stroke-width="1.50"/>
<line x1="71.10" y1="59.40" x2="75.30" y2="59.40" stroke="#1a1a1a" stroke-width="1.30"/>
<line x1="71.10" y1="98.70" x2="75.30" y2="98.70" stroke="#1a1a1a" stroke-width="1.30"/>
<line x1="71.10" y1="137.90" x2="75.30" y2="137.90" stroke="#1a1a1a" stroke-width="1.30"/>
<line x1="72.50" y1="39.60" x2="75.30" y2="39.60" stroke="#1a1a1a" stroke-width="1.30"/>
<line x1="72.50" y1="79.20" x2="75.30" y2="79.20" stroke="#1a1a1a" stroke-width="1.30"/>
<line x1="72.50" y1="118.50" x2="75.30" y2="118.50" stroke="#1a1a1a" stroke-width="1.30"/>
<line x1="556.60" y1="69.60" x2="558.60" y2="69.60" stroke="#1a1a1a" stroke-width="1.30"/>
<line x1="556.60" y1="103.60" x2="558.60" y2="103.60" stroke="#1a1a1a" stroke-width="1.30"/>
<line x1="556.60" y1="137.60" x2="558.60" y2="137.60" stroke="#1a1a1a" stroke-width="1.30"/>
<line x1="75.00" y1="154.40" x2="75.00" y2="261.70" stroke="#1a1a1a" stroke-width="1.50"/>
<line x1="556.60" y1="154.40" x2="556.60" y2="263.50" stroke="#1a1a1a" stroke-width="1.50"/>
<line x1="71.00" y1="174.20" x2="75.00" y2="174.20" stroke="#1a1a1a" stroke-width="1.30"/>
<line x1="71.00" y1="202.50" x2="75.00" y2="202.50" stroke="#1a1a1a" stroke-width="1.30"/>
<line x1="71.00" y1="230.60" x2="75.00" y2="230.60" stroke="#1a1a1a" stroke-width="1.30"/>
<line x1="71.00" y1="259.20" x2="75.00" y2="259.20" stroke="#1a1a1a" stroke-width="1.30"/>
<line x1="556.60" y1="160.10" x2="560.10" y2="160.10" stroke="#1a1a1a" stroke-width="1.30"/>
<line x1="556.60" y1="180.20" x2="560.10" y2="180.20" stroke="#1a1a1a" stroke-width="1.30"/>
<line x1="556.60" y1="200.50" x2="560.10" y2="200.50" stroke="#1a1a1a" stroke-width="1.30"/>
<line x1="556.60" y1="220.80" x2="560.10" y2="220.80" stroke="#1a1a1a" stroke-width="1.30"/>
<line x1="556.60" y1="241.00" x2="560.10" y2="241.00" stroke="#1a1a1a" stroke-width="1.30"/>
<line x1="556.60" y1="261.30" x2="560.10" y2="261.30" stroke="#1a1a1a" stroke-width="1.30"/>
<line x1="74.70" y1="279.30" x2="74.70" y2="386.20" stroke="#1a1a1a" stroke-width="1.50"/>
<line x1="556.60" y1="279.50" x2="556.60" y2="388.20" stroke="#1a1a1a" stroke-width="1.50"/>
<line x1="71.70" y1="286.10" x2="74.70" y2="286.10" stroke="#1a1a1a" stroke-width="1.30"/>
<line x1="71.70" y1="310.20" x2="74.70" y2="310.20" stroke="#1a1a1a" stroke-width="1.30"/>
<line x1="71.70" y1="334.30" x2="74.70" y2="334.30" stroke="#1a1a1a" stroke-width="1.30"/>
<line x1="71.70" y1="358.50" x2="74.70" y2="358.50" stroke="#1a1a1a" stroke-width="1.30"/>
<line x1="71.70" y1="382.60" x2="74.70" y2="382.60" stroke="#1a1a1a" stroke-width="1.30"/>
<line x1="556.60" y1="299.30" x2="560.10" y2="299.30" stroke="#1a1a1a" stroke-width="1.30"/>
<line x1="556.60" y1="326.30" x2="560.10" y2="326.30" stroke="#1a1a1a" stroke-width="1.30"/>
<line x1="556.60" y1="353.80" x2="560.10" y2="353.80" stroke="#1a1a1a" stroke-width="1.30"/>
<line x1="556.60" y1="381.10" x2="560.10" y2="381.10" stroke="#1a1a1a" stroke-width="1.30"/>
<line x1="75.00" y1="403.70" x2="75.00" y2="516.70" stroke="#1a1a1a" stroke-width="1.50"/>
<line x1="556.60" y1="404.00" x2="556.60" y2="519.00" stroke="#1a1a1a" stroke-width="1.50"/>
<line x1="620.40" y1="406.00" x2="620.40" y2="512.60" stroke="#1a1a1a" stroke-width="1.50"/>
<line x1="72.00" y1="424.20" x2="75.00" y2="424.20" stroke="#1a1a1a" stroke-width="1.30"/>
<line x1="72.00" y1="445.90" x2="75.00" y2="445.90" stroke="#1a1a1a" stroke-width="1.30"/>
<line x1="72.00" y1="467.60" x2="75.00" y2="467.60" stroke="#1a1a1a" stroke-width="1.30"/>
<line x1="72.00" y1="489.40" x2="75.00" y2="489.40" stroke="#1a1a1a" stroke-width="1.30"/>
<line x1="72.00" y1="511.20" x2="75.00" y2="511.20" stroke="#1a1a1a" stroke-width="1.30"/>
<line x1="556.60" y1="412.20" x2="560.10" y2="412.20" stroke="#1a1a1a" stroke-width="1.30"/>
<line x1="556.60" y1="434.60" x2="560.10" y2="434.60" stroke="#1a1a1a" stroke-width="1.30"/>
<line x1="556.60" y1="457.00" x2="560.10" y2="457.00" stroke="#1a1a1a" stroke-width="1.30"/>
<line x1="556.60" y1="479.40" x2="560.10" y2="479.40" stroke="#1a1a1a" stroke-width="1.30"/>
<line x1="556.60" y1="501.80" x2="560.10" y2="501.80" stroke="#1a1a1a" stroke-width="1.30"/>
<line x1="620.40" y1="420.50" x2="624.90" y2="420.50" stroke="#1a1a1a" stroke-width="1.30"/>
<line x1="620.40" y1="453.50" x2="624.90" y2="453.50" stroke="#1a1a1a" stroke-width="1.30"/>
<line x1="620.40" y1="486.50" x2="624.90" y2="486.50" stroke="#1a1a1a" stroke-width="1.30"/>
<line x1="75.00" y1="527.20" x2="75.00" y2="633.60" stroke="#1a1a1a" stroke-width="1.50"/>
<line x1="556.60" y1="527.60" x2="556.60" y2="635.90" stroke="#1a1a1a" stroke-width="1.50"/>
<line x1="72.00" y1="537.00" x2="75.00" y2="537.00" stroke="#1a1a1a" stroke-width="1.30"/>
<line x1="72.00" y1="568.80" x2="75.00" y2="568.80" stroke="#1a1a1a" stroke-width="1.30"/>
<line x1="72.00" y1="600.70" x2="75.00" y2="600.70" stroke="#1a1a1a" stroke-width="1.30"/>
<line x1="72.00" y1="632.60" x2="75.00" y2="632.60" stroke="#1a1a1a" stroke-width="1.30"/>
<line x1="556.60" y1="532.20" x2="560.10" y2="532.20" stroke="#1a1a1a" stroke-width="1.30"/>
<line x1="556.60" y1="552.30" x2="560.10" y2="552.30" stroke="#1a1a1a" stroke-width="1.30"/>
<line x1="556.60" y1="572.40" x2="560.10" y2="572.40" stroke="#1a1a1a" stroke-width="1.30"/>
<line x1="556.60" y1="592.60" x2="560.10" y2="592.60" stroke="#1a1a1a" stroke-width="1.30"/>
<line x1="556.60" y1="612.70" x2="560.10" y2="612.70" stroke="#1a1a1a" stroke-width="1.30"/>
<line x1="556.60" y1="632.80" x2="560.10" y2="632.80" stroke="#1a1a1a" stroke-width="1.30"/>
<line x1="74.80" y1="648.50" x2="557.75" y2="648.50" stroke="#1a1a1a" stroke-width="1.50"/>
<line x1="98.90" y1="648.50" x2="98.90" y2="656.70" stroke="#1a1a1a" stroke-width="1.50"/>
<line x1="213.50" y1="648.50" x2="213.50" y2="656.70" stroke="#1a1a1a" stroke-width="1.50"/>
<line x1="328.00" y1="648.50" x2="328.00" y2="656.70" stroke="#1a1a1a" stroke-width="1.50"/>
<line x1="442.50" y1="648.50" x2="442.50" y2="656.70" stroke="#1a1a1a" stroke-width="1.50"/>
<line x1="557.00" y1="648.50" x2="557.00" y2="656.70" stroke="#1a1a1a" stroke-width="1.50"/>
<line x1="156.20" y1="648.50" x2="156.20" y2="652.60" stroke="#1a1a1a" stroke-width="1.50"/>
<line x1="270.70" y1="648.50" x2="270.70" y2="652.60" stroke="#1a1a1a" stroke-width="1.50"/>
<line x1="385.30" y1="648.50" x2="385.30" y2="652.60" stroke="#1a1a1a" stroke-width="1.50"/>
<line x1="499.80" y1="648.50" x2="499.80" y2="652.60" stroke="#1a1a1a" stroke-width="1.50"/>
<text  transform="translate(112.97,15.83) scale(1.1108,1)" font-size="15.50" fill="#111111" stroke="#111111" stroke-width="0.15">Human activities</text>
<text  transform="translate(80.71,57.40) scale(1.0363,1)" font-size="17.19" fill="#111111" stroke="#111111" stroke-width="0.15">(a)</text>
<text  transform="translate(77.43,162.83) scale(1.0426,1)" font-size="17.09" fill="#111111" stroke="#111111" stroke-width="0.15">(b)</text>
<text  transform="translate(80.51,292.72) scale(1.0529,1)" font-size="17.21" fill="#111111" stroke="#111111" stroke-width="0.15">(c)</text>
<text  transform="translate(80.53,403.40) scale(1.0304,1)" font-size="17.55" fill="#111111" stroke="#111111" stroke-width="0.15">(d)</text>
<text  transform="translate(80.72,537.64) scale(1.0298,1)" font-size="17.35" fill="#111111" stroke="#111111" stroke-width="0.15">(e)</text>
<text  transform="translate(44.30,64.77) scale(0.9905,1)" font-size="14.17" fill="#f20d0d" stroke="#f20d0d" stroke-width="0.30">1.0</text>
<text  text-anchor="end" transform="translate(63.81,103.76) scale(0.9905,1)" font-size="14.17" fill="#f20d0d" stroke="#f20d0d" stroke-width="0.30">0.5</text>
<text  text-anchor="end" transform="translate(63.81,142.86) scale(0.9905,1)" font-size="14.17" fill="#f20d0d" stroke="#f20d0d" stroke-width="0.30">0.0</text>
<text  transform="translate(562.64,75.83) scale(1.0442,1)" font-size="14.80" fill="#111111" stroke="#111111" stroke-width="0.15">4</text>
<text  transform="translate(562.64,110.22) scale(1.0442,1)" font-size="14.80" fill="#111111" stroke="#111111" stroke-width="0.15">2</text>
<text  transform="translate(562.64,144.02) scale(1.0442,1)" font-size="14.80" fill="#111111" stroke="#111111" stroke-width="0.15">0</text>
<text  transform="translate(49.84,178.86) scale(1.0304,1)" font-size="14.73" fill="#33a02c" stroke="#33a02c" stroke-width="0.30">15</text>
<text  text-anchor="end" transform="translate(66.72,206.32) scale(1.0304,1)" font-size="14.73" fill="#33a02c" stroke="#33a02c" stroke-width="0.30">10</text>
<text  text-anchor="end" transform="translate(66.72,234.52) scale(1.0304,1)" font-size="14.73" fill="#33a02c" stroke="#33a02c" stroke-width="0.30">5</text>
<text  text-anchor="end" transform="translate(66.72,263.52) scale(1.0304,1)" font-size="14.73" fill="#33a02c" stroke="#33a02c" stroke-width="0.30">0</text>
<text  transform="translate(564.74,162.98) scale(1.1914,1)" font-size="13.37" fill="#1f86c0" stroke="#1f86c0" stroke-width="0.30">1.25</text>
<text  transform="translate(564.74,182.83) scale(1.1914,1)" font-size="13.37" fill="#1f86c0" stroke="#1f86c0" stroke-width="0.30">1.00</text>
<text  transform="translate(564.74,203.44) scale(1.1914,1)" font-size="13.37" fill="#1f86c0" stroke="#1f86c0" stroke-width="0.30">0.75</text>
<text  transform="translate(564.74,223.03) scale(1.1914,1)" font-size="13.37" fill="#1f86c0" stroke="#1f86c0" stroke-width="0.30">0.50</text>
<text  transform="translate(564.74,243.64) scale(1.1914,1)" font-size="13.37" fill="#1f86c0" stroke="#1f86c0" stroke-width="0.30">0.25</text>
<text  transform="translate(564.74,264.22) scale(1.1914,1)" font-size="13.37" fill="#1f86c0" stroke="#1f86c0" stroke-width="0.30">0.00</text>
<text  transform="translate(46.46,290.61) scale(1.2119,1)" font-size="13.41" fill="#e2552b" stroke="#e2552b" stroke-width="0.30">-26</text>
<text  text-anchor="end" transform="translate(69.95,315.21) scale(1.2119,1)" font-size="13.41" fill="#e2552b" stroke="#e2552b" stroke-width="0.30">-27</text>
<text  text-anchor="end" transform="translate(69.95,339.25) scale(1.2119,1)" font-size="13.41" fill="#e2552b" stroke="#e2552b" stroke-width="0.30">-28</text>
<text  text-anchor="end" transform="translate(69.95,363.69) scale(1.2119,1)" font-size="13.41" fill="#e2552b" stroke="#e2552b" stroke-width="0.30">-29</text>
<text  text-anchor="end" transform="translate(69.95,387.83) scale(1.2119,1)" font-size="13.41" fill="#e2552b" stroke="#e2552b" stroke-width="0.30">-30</text>
<text  transform="translate(562.82,304.30) scale(1.1093,1)" font-size="14.37" fill="#5d6a2c" stroke="#5d6a2c" stroke-width="0.30">20</text>
<text  text-anchor="middle" transform="translate(571.68,331.65) scale(1.1093,1)" font-size="14.37" fill="#5d6a2c" stroke="#5d6a2c" stroke-width="0.30">15</text>
<text  text-anchor="middle" transform="translate(571.68,358.58) scale(1.1093,1)" font-size="14.37" fill="#5d6a2c" stroke="#5d6a2c" stroke-width="0.30">10</text>
<text  text-anchor="middle" transform="translate(571.68,385.51) scale(1.1093,1)" font-size="14.37" fill="#5d6a2c" stroke="#5d6a2c" stroke-width="0.30">5</text>
<text  transform="translate(54.89,428.44) scale(1.0087,1)" font-size="14.30" fill="#4a6074" stroke="#4a6074" stroke-width="0.30">40</text>
<text  text-anchor="end" transform="translate(70.94,450.29) scale(1.0087,1)" font-size="14.30" fill="#4a6074" stroke="#4a6074" stroke-width="0.30">30</text>
<text  text-anchor="end" transform="translate(70.94,471.76) scale(1.0087,1)" font-size="14.30" fill="#4a6074" stroke="#4a6074" stroke-width="0.30">20</text>
<text  text-anchor="end" transform="translate(70.94,494.36) scale(1.0087,1)" font-size="14.30" fill="#4a6074" stroke="#4a6074" stroke-width="0.30">10</text>
<text  text-anchor="end" transform="translate(70.94,515.96) scale(1.0087,1)" font-size="14.30" fill="#4a6074" stroke="#4a6074" stroke-width="0.30">0</text>
<text  transform="translate(564.53,416.24) scale(0.9867,1)" font-size="14.31" fill="#8f8f8f" stroke="#8f8f8f" stroke-width="0.30">0.25</text>
<text  transform="translate(564.53,438.69) scale(0.9867,1)" font-size="14.31" fill="#8f8f8f" stroke="#8f8f8f" stroke-width="0.30">0.20</text>
<text  transform="translate(564.53,460.69) scale(0.9867,1)" font-size="14.31" fill="#8f8f8f" stroke="#8f8f8f" stroke-width="0.30">0.15</text>
<text  transform="translate(564.53,483.69) scale(0.9867,1)" font-size="14.31" fill="#8f8f8f" stroke="#8f8f8f" stroke-width="0.30">0.10</text>
<text  transform="translate(564.53,505.79) scale(0.9867,1)" font-size="14.31" fill="#8f8f8f" stroke="#8f8f8f" stroke-width="0.30">0.05</text>
<text  transform="translate(629.71,425.60) scale(1.0421,1)" font-size="14.75" fill="#b84a80" stroke="#b84a80" stroke-width="0.30">1.5</text>
<text  transform="translate(629.71,458.70) scale(1.0421,1)" font-size="14.75" fill="#b84a80" stroke="#b84a80" stroke-width="0.30">1.0</text>
<text  transform="translate(629.71,491.43) scale(1.0421,1)" font-size="14.75" fill="#b84a80" stroke="#b84a80" stroke-width="0.30">0.5</text>
<text  transform="translate(38.04,540.34) scale(1.1754,1)" font-size="14.04" fill="#2e8a4e" stroke="#2e8a4e" stroke-width="0.30">-7.0</text>
<text  text-anchor="end" transform="translate(66.49,571.75) scale(1.1754,1)" font-size="14.04" fill="#2e8a4e" stroke="#2e8a4e" stroke-width="0.30">-7.5</text>
<text  text-anchor="end" transform="translate(66.49,603.54) scale(1.1754,1)" font-size="14.04" fill="#2e8a4e" stroke="#2e8a4e" stroke-width="0.30">-8.0</text>
<text  text-anchor="end" transform="translate(66.49,635.35) scale(1.1754,1)" font-size="14.04" fill="#2e8a4e" stroke="#2e8a4e" stroke-width="0.30">-8.5</text>
<text  transform="translate(565.15,595.65) scale(1.1503,1)" font-size="14.77" fill="#1676c8" stroke="#1676c8" stroke-width="0.30">-10</text>
<text  text-anchor="middle" transform="translate(577.42,536.21) scale(1.1503,1)" font-size="14.77" fill="#1676c8" stroke="#1676c8" stroke-width="0.30">-4</text>
<text  text-anchor="middle" transform="translate(577.42,555.87) scale(1.1503,1)" font-size="14.77" fill="#1676c8" stroke="#1676c8" stroke-width="0.30">-6</text>
<text  text-anchor="middle" transform="translate(577.42,575.71) scale(1.1503,1)" font-size="14.77" fill="#1676c8" stroke="#1676c8" stroke-width="0.30">-8</text>
<text  text-anchor="middle" transform="translate(577.42,615.44) scale(1.1503,1)" font-size="14.77" fill="#1676c8" stroke="#1676c8" stroke-width="0.30">-12</text>
<text  text-anchor="middle" transform="translate(577.42,635.25) scale(1.1503,1)" font-size="14.77" fill="#1676c8" stroke="#1676c8" stroke-width="0.30">-14</text>
<text  transform="translate(308.92,673.67) scale(1.0637,1)" font-size="15.04" fill="#111111" stroke="#111111" stroke-width="0.15">1000</text>
<text  transform="translate(92.67,674.22) scale(1.0637,1)" font-size="15.04" fill="#111111" stroke="#111111" stroke-width="0.15">0</text>
<text  transform="translate(195.81,674.16) scale(1.0637,1)" font-size="15.04" fill="#111111" stroke="#111111" stroke-width="0.15">500</text>
<text  transform="translate(424.47,674.17) scale(1.0637,1)" font-size="15.04" fill="#111111" stroke="#111111" stroke-width="0.15">1500</text>
<text  transform="translate(539.31,674.22) scale(1.0637,1)" font-size="15.04" fill="#111111" stroke="#111111" stroke-width="0.15">2000</text>
<text  transform="translate(253.26,698.08) scale(1.1591,1)" font-size="14.85" fill="#111111" stroke="#111111" stroke-width="0.15">Age (cal yr BP)</text>
<text  transform="translate(11.51,112.68) rotate(-90) scale(0.9797,1)" font-size="14.90" fill="#f20d0d" stroke="#f20d0d" stroke-width="0.30">CHAR</text>
<text  transform="translate(25.98,147.08) rotate(-90) scale(1.0522,1)" font-size="13.80" fill="#f20d0d" stroke="#f20d0d" stroke-width="0.30">(pieces cm<tspan dy="-5" font-size="60%">−2</tspan><tspan dy="5"> yr</tspan><tspan dy="-5" font-size="60%">−1</tspan><tspan dy="5">)</tspan></text>
<text  transform="translate(590.95,136.78) rotate(-90) scale(1.0639,1)" font-size="13.20" fill="#111111" stroke="#111111" stroke-width="0.15">Fire frequency</text>
<text  transform="translate(607.73,141.80) rotate(-90) scale(1.0209,1)" font-size="14.00" fill="#111111" stroke="#111111" stroke-width="0.15">(peaks 0.2ka-1)</text>
<text  transform="translate(39.51,244.17) rotate(-90) scale(1.0066,1)" font-size="14.50" fill="#33a02c" stroke="#33a02c" stroke-width="0.30">TOC (%)</text>
<text  transform="translate(616.98,234.36) rotate(-90) scale(0.9893,1)" font-size="14.50" fill="#1f86c0" stroke="#1f86c0" stroke-width="0.30">TN (%)</text>
<text  transform="translate(26.27,373.89) rotate(-90) scale(1.0657,1)" font-size="14.50" fill="#e2552b" stroke="#e2552b" stroke-width="0.30">δ<tspan dy="-5" font-size="60%">13</tspan><tspan dy="5">C</tspan><tspan dy="4" font-size="70%">org</tspan><tspan dy="-4"> (‰)</tspan></text>
<text  transform="translate(599.69,367.49) rotate(-90) scale(1.0428,1)" font-size="14.50" fill="#5d6a2c" stroke="#5d6a2c" stroke-width="0.30">TOC/TN</text>
<text  transform="translate(611.99,354.64) rotate(-90) scale(1.1849,1)" font-size="12.70" fill="#5d6a2c" stroke="#5d6a2c" stroke-width="0.30">ratio</text>
<text  transform="translate(28.46,502.91) rotate(-90) scale(1.0662,1)" font-size="14.50" fill="#4a6074" stroke="#4a6074" stroke-width="0.30">Diatom conc.</text>
<text  transform="translate(43.78,517.68) rotate(-90) scale(1.1543,1)" font-size="14.00" fill="#4a6074" stroke="#4a6074" stroke-width="0.30">(10<tspan dy="-5" font-size="60%">4</tspan><tspan dy="5"> valves gm</tspan><tspan dy="-5" font-size="60%">-1</tspan><tspan dy="5">)</tspan></text>
<text  transform="translate(608.36,495.19) rotate(-90) scale(1.1736,1)" font-size="14.00" fill="#8f8f8f" stroke="#8f8f8f" stroke-width="0.30">SR (cm yr<tspan dy="-5" font-size="60%">−1</tspan><tspan dy="5">)</tspan></text>
<text  transform="translate(668.31,466.32) rotate(-90) scale(1.1022,1)" font-size="14.00" fill="#b84a80" stroke="#b84a80" stroke-width="0.30">MS</text>
<text  transform="translate(682.69,500.74) rotate(-90) scale(1.1441,1)" font-size="14.00" fill="#b84a80" stroke="#b84a80" stroke-width="0.30">(10<tspan dy="-5" font-size="60%">−5</tspan><tspan dy="5"> m</tspan><tspan dy="-5" font-size="60%">3</tspan><tspan dy="5"> kg-</tspan><tspan dy="-5" font-size="60%">1</tspan><tspan dy="5">)</tspan></text>
<text  transform="translate(12.26,610.94) rotate(-90) scale(1.1480,1)" font-size="13.50" fill="#111111" stroke="#111111" stroke-width="0.15">δ<tspan dy="-5" font-size="60%">18</tspan><tspan dy="5">O (‰)</tspan></text>
<text  transform="translate(24.58,625.36) rotate(-90) scale(1.1388,1)" font-size="13.50" fill="#111111" stroke="#111111" stroke-width="0.15">Dongge Cave</text>
<text  transform="translate(607.28,612.67) rotate(-90) scale(1.1494,1)" font-size="14.00" fill="#1676c8" stroke="#1676c8" stroke-width="0.30">δ<tspan dy="-5" font-size="60%">18</tspan><tspan dy="5">O (‰)</tspan></text>
<text  transform="translate(620.86,634.07) rotate(-90) scale(1.1480,1)" font-size="14.00" fill="#1676c8" stroke="#1676c8" stroke-width="0.30">Cave depostis</text>
<text  transform="translate(637.25,639.81) rotate(-90) scale(1.1258,1)" font-size="14.00" fill="#1676c8" stroke="#1676c8" stroke-width="0.30">Southern Taiwan</text>
</svg></body></html>
